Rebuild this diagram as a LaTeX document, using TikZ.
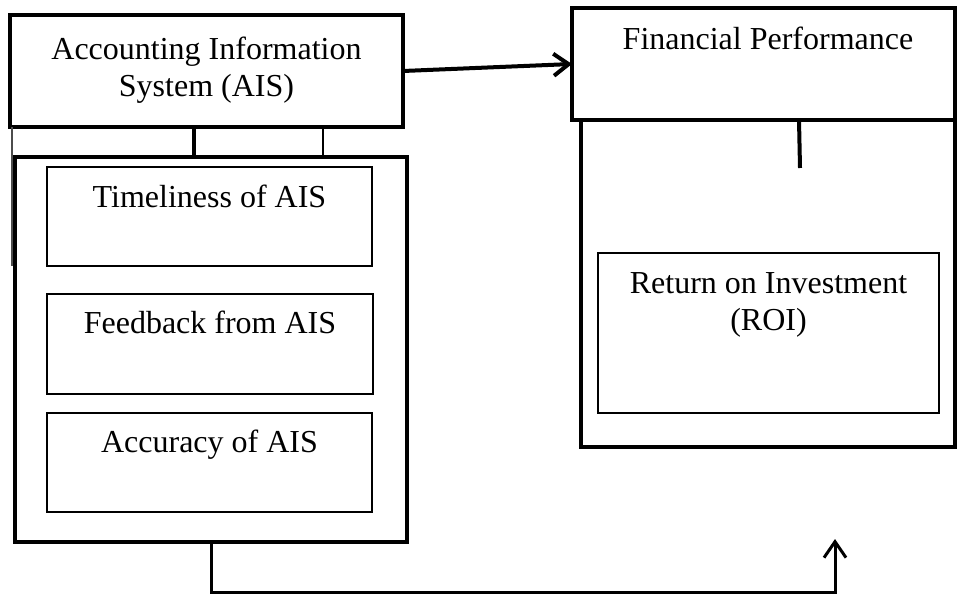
\documentclass[tikz,border=0pt]{standalone}
\usepackage{fontspec}
\setmainfont{Liberation Serif}
\usetikzlibrary{arrows.meta}
\begin{document}
\begin{tikzpicture}[x=1pt,y=-1pt,
  heavybox/.style={draw=black,line width=4pt,rectangle,inner sep=0pt,outer sep=0pt,anchor=north west},
  lightbox/.style={draw=black,line width=2pt,rectangle,inner sep=0pt,outer sep=0pt,anchor=north west},
  lbl/.style={font=\fontsize{32}{36.5}\selectfont,inner sep=0pt,anchor=base,align=center},
  heavyline/.style={line width=4pt},
  thinline/.style={line width=2pt},
  hairline/.style={line width=1.5pt,draw=black!70},
  link/.style={line width=4pt,-{Straight Barb[length=15pt,width=22pt,line width=4pt]}},
  backlink/.style={line width=3pt,-{Straight Barb[length=16pt,width=22pt,line width=3pt]}}
]
\useasboundingbox (0,0) rectangle (958,594);
% left side
\node[heavybox,minimum width=393pt,minimum height=112pt] (ais) at (10,15) {};
\node[lbl] (aist) at (206.5,96) {Accounting Information\\System (AIS)};
\node[heavybox,minimum width=392pt,minimum height=385pt] (outer) at (15,157) {};
\node[lightbox,minimum width=325pt,minimum height=99pt] (tim) at (47,167) {};
\node[lbl] (timt) at (209.5,207) {Timeliness of AIS};
\node[lightbox,minimum width=326pt,minimum height=100pt] (feed) at (47,294) {};
\node[lbl] (feedt) at (210,333) {Feedback from AIS};
\node[lightbox,minimum width=325pt,minimum height=99pt] (acc) at (47,413) {};
\node[lbl] (acct) at (209.5,452) {Accuracy of AIS};
% right side
\node[heavybox,minimum width=383pt,minimum height=112pt] (fp) at (572,8) {};
\node[lbl] (fpt) at (768,50) {Financial Performance};
\node[heavybox,minimum width=374pt,minimum height=327pt] (fpo) at (581,120) {};
\node[lightbox,minimum width=341pt,minimum height=160pt] (roi) at (598,253) {};
\node[lbl] (roit) at (768.5,330) {Return on Investment\\(ROI)};
% connectors
\coordinate (leftend) at (12,266);
\coordinate (fpend) at (800,168);
\coordinate (tip) at (835,539);
\draw[hairline] ([xshift=2pt]ais.south west) -- (leftend);
\draw[heavyline] ([xshift=-12.5pt]ais.south) -- ([xshift=-17pt]outer.north);
\draw[thinline] ([xshift=116.5pt]ais.south) -- ([xshift=112pt]outer.north);
\draw[link] (ais.east) -- (fp.west);
\draw[heavyline] ([xshift=35.5pt]fp.south) -- (fpend);
\draw[backlink] (outer.south) -- ++(0,50) -| (tip);
\end{tikzpicture}
\end{document}
